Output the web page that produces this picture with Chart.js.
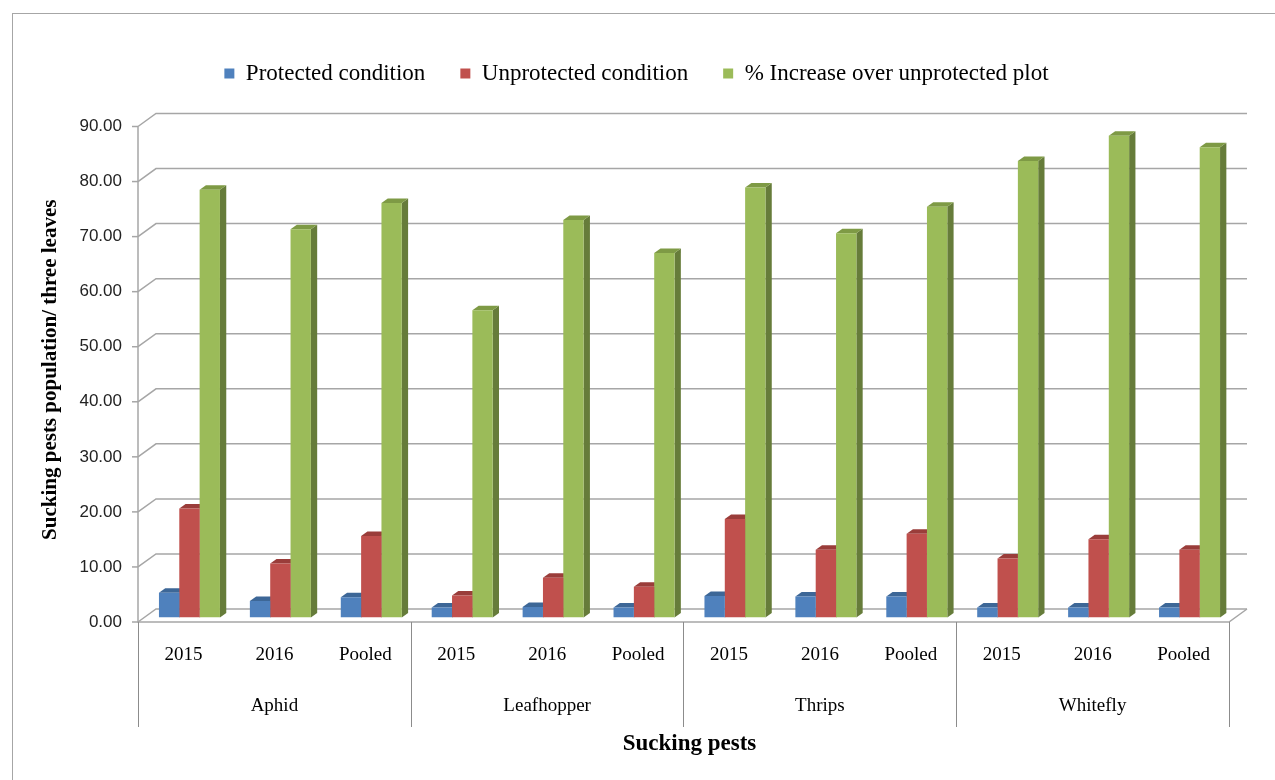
<!DOCTYPE html>
<html>
<head>
<meta charset="utf-8">
<script src="https://cdn.jsdelivr.net/npm/chart.js@4.4.1/dist/chart.umd.min.js"></script>
<style>
html, body { margin: 0; padding: 0; background: #fff; }
#wrap { position: relative; width: 1275px; height: 780px; overflow: hidden; }
#frame { position: absolute; left: 12px; top: 13px; width: 1300px; height: 800px; border: 1px solid #a6a6a6; box-sizing: border-box; }
canvas { position: absolute; left: 0; top: 0; }
</style>
</head>
<body>
<div id="wrap">
    <div id="frame"></div>
    <canvas id="chart" width="1275" height="780"></canvas>
</div>
<script>
// =========================
// DATA
// =========================
const pests = ['Aphid', 'Leafhopper', 'Thrips', 'Whitefly'];
const periods = ['2015', '2016', 'Pooled'];
const categories = pests.flatMap(p => periods.map(y => [y, p]));
const xLabels = categories.map(c => c[0]);

const protectedVals   = [4.5, 3.0, 3.7,  1.8, 1.9, 1.8,  3.9, 3.8, 3.8,  1.8, 1.8, 1.8];
const unprotectedVals = [19.8, 9.8, 14.8, 4.0, 7.2, 5.6, 17.9, 12.3, 15.2, 10.7, 14.2, 12.3];
const increaseVals    = [77.7, 70.5, 75.3, 55.8, 72.2, 66.2, 78.1, 69.8, 74.6, 82.9, 87.5, 85.4];

const yTicks = [0, 10, 20, 30, 40, 50, 60, 70, 80, 90];

const seriesNames = ['Protected condition', 'Unprotected condition', '% Increase over unprotected plot'];
const frontColors = ['#4f81bd', '#c0504d', '#9bbb59'];
const topColors   = ['#3d6797', '#9a3d3a', '#7e9a45'];
const sideColors  = ['#2f5381', '#7f302e', '#667c3a'];

// =========================
// 3D LOOK (drawn from the scales)
// =========================
const DX = 6.3, DY = 4.5;    // bar depth
const FX = -6, FY = 4.5;     // bar plane -> front edge
const BX = 12, BY = -8.5;    // bar plane -> back wall
const GRID = '#a6a6a6';
const LEGEND_EXTRA = 27;     // room between legend and plot

const depthPlugin = {
    id: 'depth',
    beforeLayout(chart) {
        const lg = chart.legend;
        if (lg && !lg._padded) {
            const fit = lg.fit;
            lg.fit = function () {
                fit.call(this);
                this.height += LEGEND_EXTRA;
            };
            lg._padded = true;
        }
    },
    beforeDatasetsDraw(chart) {
        const { ctx, chartArea: a, scales: { x, y } } = chart;
        ctx.save();
        ctx.strokeStyle = GRID;
        ctx.lineWidth = 1.5;

        // back wall grid + left wall diagonals + ticks
        yTicks.forEach(v => {
            const py = y.getPixelForValue(v);
            ctx.beginPath();
            ctx.moveTo(a.left + FX, py + FY);
            ctx.lineTo(a.left + BX, py + BY);
            ctx.lineTo(a.right + BX, py + BY);
            ctx.stroke();
            ctx.beginPath();
            ctx.moveTo(a.left + FX - 6, py + FY);
            ctx.lineTo(a.left + FX, py + FY);
            ctx.stroke();
        });

        // front vertical axis + floor front edge + right floor edge
        const y0 = y.getPixelForValue(0);
        const yTop = y.getPixelForValue(yTicks[yTicks.length - 1]);
        ctx.beginPath();
        ctx.moveTo(a.left + FX, yTop + FY);
        ctx.lineTo(a.left + FX, y0 + FY);
        ctx.lineTo(a.right + FX, y0 + FY);
        ctx.lineTo(a.right + BX, y0 + BY);
        ctx.stroke();

        // side and top faces of bars (front faces come from Chart.js)
        chart.data.datasets.forEach((ds, i) => {
            chart.getDatasetMeta(i).data.forEach(bar => {
                const l = bar.x - bar.width / 2;
                const r = bar.x + bar.width / 2;
                const t = bar.y, b = bar.base;

                ctx.fillStyle = sideColors[i];
                ctx.beginPath();
                ctx.moveTo(r, t);
                ctx.lineTo(r + DX, t - DY);
                ctx.lineTo(r + DX, b - DY);
                ctx.lineTo(r, b);
                ctx.closePath();
                ctx.fill();

                ctx.fillStyle = topColors[i];
                ctx.beginPath();
                ctx.moveTo(l, t);
                ctx.lineTo(l + DX, t - DY);
                ctx.lineTo(r + DX, t - DY);
                ctx.lineTo(r, t);
                ctx.closePath();
                ctx.fill();
            });
        });
        ctx.restore();
    },
    afterDraw(chart) {
        const { ctx, scales: { x, y } } = chart;
        const y0 = y.getPixelForValue(0) + FY;
        const step = x.getPixelForValue(1) - x.getPixelForValue(0);
        ctx.save();
        ctx.strokeStyle = '#8c8c8c';
        ctx.lineWidth = 1;
        for (let g = 0; g <= pests.length; g++) {
            const px = Math.round(x.getPixelForValue(g * 3) - step / 2 + FX) + 0.5;
            ctx.beginPath();
            ctx.moveTo(px, y0);
            ctx.lineTo(px, 727);
            ctx.stroke();
        }
        ctx.fillStyle = '#000';
        ctx.font = '19px "Liberation Serif"';
        ctx.textAlign = 'center';
        ctx.textBaseline = 'middle';
        pests.forEach((p, g) => {
            const cx = (x.getPixelForValue(g * 3) + x.getPixelForValue(g * 3 + 2)) / 2 + FX;
            ctx.fillText(p, cx, 706);
        });
        ctx.restore();
    }
};

// =========================
// CHART
// =========================
new Chart(document.getElementById('chart'), {
    type: 'bar',
    data: {
        labels: xLabels,
        datasets: [
            { label: seriesNames[0], data: protectedVals,   backgroundColor: frontColors[0] },
            { label: seriesNames[1], data: unprotectedVals, backgroundColor: frontColors[1] },
            { label: seriesNames[2], data: increaseVals,    backgroundColor: frontColors[2] }
        ]
    },
    options: {
        responsive: false,
        animation: false,
        devicePixelRatio: 1,
        layout: { padding: { left: 38, right: 40, top: 27, bottom: 0 } },
        datasets: { bar: { barPercentage: 1, categoryPercentage: 0.671, borderWidth: 0 } },
        plugins: {
            legend: {
                position: 'top',
                labels: {
                    boxWidth: 10,
                    boxHeight: 10,
                    padding: 35,
                    color: '#000',
                    font: { family: '"Liberation Serif"', size: 23 }
                }
            },
            tooltip: { enabled: false }
        },
        scales: {
            x: {
                grid: { display: false, drawTicks: false },
                border: { display: false },
                ticks: {
                    color: '#000',
                    padding: 26,
                    labelOffset: FX,
                    maxRotation: 0,
                    autoSkip: false,
                    font: { family: '"Liberation Serif"', size: 19 }
                },
                title: {
                    display: true,
                    text: 'Sucking pests',
                    color: '#000',
                    padding: { top: 0, bottom: 22 },
                    font: { family: '"Liberation Serif"', size: 23, weight: 'bold' }
                },
                afterFit(scale) { scale.height = 162.5; }
            },
            y: {
                min: 0,
                max: 90,
                afterBuildTicks(scale) { scale.ticks = yTicks.map(v => ({ value: v })); },
                grid: { display: false, drawTicks: false },
                border: { display: false },
                ticks: {
                    color: '#222',
                    padding: 22,
                    labelOffset: FY,
                    font: { family: '"Liberation Sans"', size: 17 },
                    callback: v => Number(v).toFixed(2)
                },
                title: {
                    display: true,
                    text: 'Sucking pests population/ three leaves',
                    color: '#000',
                    padding: 0,
                    font: { family: '"Liberation Serif"', size: 21, weight: 'bold' }
                },
                afterFit(scale) { scale.width = 106; }
            }
        }
    },
    plugins: [depthPlugin]
});
</script>
</body>
</html>
